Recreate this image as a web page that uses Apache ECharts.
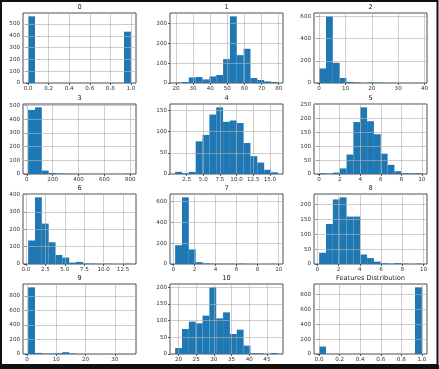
<!DOCTYPE html>
<html><head><meta charset="utf-8">
<script src="https://cdn.jsdelivr.net/npm/echarts@6/dist/echarts.min.js"></script>
<style>html,body{margin:0;padding:0;background:#fff}#c{width:439px;height:369px}</style>
</head><body><div id="c"></div>
<script>
const titles = ['0','1','2','3','4','5','6','7','8','9','10','Features Distribution'];
const binLo = [0, 19.5, 0, 10, 0.77, 0, 0.28, 0.17, 0.17, 0.4, 19.06, 0];
const binHi = [1, 79.5, 39, 805, 16.2, 10, 13.5, 9.92, 9.83, 35.5, 48.1, 1];
const counts0 = [565,0,0,0,0,0,0,0,0,0,0,0,0,0,435];
const counts1 = [2,5,28,30,18,33,40,120,335,140,172,25,15,8,5];
const counts2 = [131,600,182,45,10,5,0,5,3,2,1,1,0,0,1];
const counts3 = [468,487,25,8,3,2,1,1,0,0,0,0,0,0,2];
const counts4 = [5,2,5,77,92,140,157,123,126,120,73,42,27,10,4];
const counts5 = [3,1,5,20,70,187,240,190,143,73,33,10,3,2,3];
const counts6 = [135,383,232,125,52,37,8,12,3,2,1,1,0,0,1];
const counts7 = [180,640,140,18,5,2,1,1,1,3,1,0,0,0,1];
const counts8 = [38,135,218,225,160,160,32,20,8,2,1,3,1,0,1];
const counts9 = [920,15,3,5,10,25,8,1,0,0,0,0,0,0,1];
const counts10 = [18,75,97,92,115,200,107,125,60,73,25,2,2,0,3];
const counts11 = [100,0,0,0,0,0,0,0,0,0,0,0,0,0,900];
const allCounts = [counts0,counts1,counts2,counts3,counts4,counts5,counts6,counts7,counts8,counts9,counts10,counts11];
const xTicks = [
  [0,0.2,0.4,0.6,0.8,1.0],
  [20,30,40,50,60,70,80],
  [0,10,20,30,40],
  [0,200,400,600,800],
  [2.5,5,7.5,10,12.5,15],
  [0,2,4,6,8,10],
  [0,2.5,5,7.5,10,12.5],
  [0,2,4,6,8,10],
  [0,2,4,6,8,10],
  [0,10,20,30],
  [20,25,30,35,40,45],
  [0,0.2,0.4,0.6,0.8,1.0]
];
const xDecimals = [1,0,0,0,1,0,1,0,0,0,0,1];
const yTicks = [
  [0,100,200,300,400,500],
  [0,100,200,300],
  [0,200,400,600],
  [0,100,200,300,400,500],
  [0,50,100,150],
  [0,50,100,150,200,250],
  [0,100,200,300,400],
  [0,200,400,600],
  [0,50,100,150,200],
  [0,200,400,600,800],
  [0,50,100,150,200],
  [0,200,400,600,800]
];

const colLeft = [23, 170, 314];
const rowTop = [13, 104, 194, 284];
const W = 113, H = 70;
const FONT = 'DejaVu Sans';

const grids = [], xAxes = [], yAxes = [], series = [], graphics = [];
for (let i = 0; i < 12; i++) {
  const r = Math.floor(i / 3), c = i % 3;
  const lo = binLo[i], hi = binHi[i], range = hi - lo;
  const cnt = allCounts[i];
  const nb = cnt.length, bw = range / nb;
  const ymax = Math.max(...cnt) * 1.05;
  grids.push({left: colLeft[c], top: rowTop[r], width: W, height: H,
    show: true, borderColor: '#3a3a3a', borderWidth: 0.9, backgroundColor: '#fff'});
  const dec = xDecimals[i];
  xAxes.push({type: 'value', gridIndex: i, min: lo - 0.05 * range, max: hi + 0.05 * range,
    axisLine: {show: false}, splitLine: {show: false},
    axisTick: {show: true, length: 2, customValues: xTicks[i], lineStyle: {color: '#333', width: 0.8}},
    axisLabel: {customValues: xTicks[i], fontSize: 5.6, color: '#333', fontFamily: FONT, margin: 3,
      formatter: v => Number(v).toFixed(dec)}});
  yAxes.push({type: 'value', gridIndex: i, min: 0, max: ymax,
    axisLine: {show: false}, splitLine: {show: false},
    axisTick: {show: true, length: 2, customValues: yTicks[i], lineStyle: {color: '#333', width: 0.8}},
    axisLabel: {customValues: yTicks[i], fontSize: 5.6, color: '#333', fontFamily: FONT, margin: 3}});
  const data = cnt.map((v, k) => [lo + k * bw, lo + (k + 1) * bw, v]);
  const gridLines = xTicks[i].map(v => ({xAxis: v})).concat(yTicks[i].filter(v => v > 0).map(v => ({yAxis: v})));
  series.push({type: 'custom', xAxisIndex: i, yAxisIndex: i, data: data,
    renderItem: (params, api) => {
      const p0 = api.coord([api.value(0), 0]);
      const p1 = api.coord([api.value(1), api.value(2)]);
      return {type: 'rect', shape: {x: p0[0], y: p1[1], width: p1[0] - p0[0], height: p0[1] - p1[1]},
        style: {fill: '#1f77b4'}};
    },
    encode: {x: [0, 1], y: 2},
    markLine: {silent: true, symbol: 'none', animation: false, label: {show: false},
      lineStyle: {color: 'rgba(176,176,176,0.8)', width: 0.8, type: 'solid'},
      emphasis: {disabled: true},
      data: gridLines}
  });
  graphics.push({type: 'text', x: colLeft[c] + W / 2, y: rowTop[r] - 6, z: 50,
    style: {text: titles[i], textAlign: 'center', textVerticalAlign: 'middle',
      fontSize: 6.6, fill: '#222', fontFamily: FONT}});
}
graphics.push({type: 'rect', shape: {x: 1, y: 1, width: 436.5, height: 364}, style: {fill: 'none', stroke: '#111', lineWidth: 2}, z: 100});
graphics.push({type: 'rect', shape: {x: 0, y: 365, width: 439, height: 4}, style: {fill: '#111'}, z: 100});

const chart = echarts.init(document.getElementById('c'), null, {renderer: 'canvas'});
chart.setOption({
  animation: false,
  backgroundColor: '#fff',
  grid: grids, xAxis: xAxes, yAxis: yAxes, series: series,
  graphic: graphics
});
</script></body></html>
